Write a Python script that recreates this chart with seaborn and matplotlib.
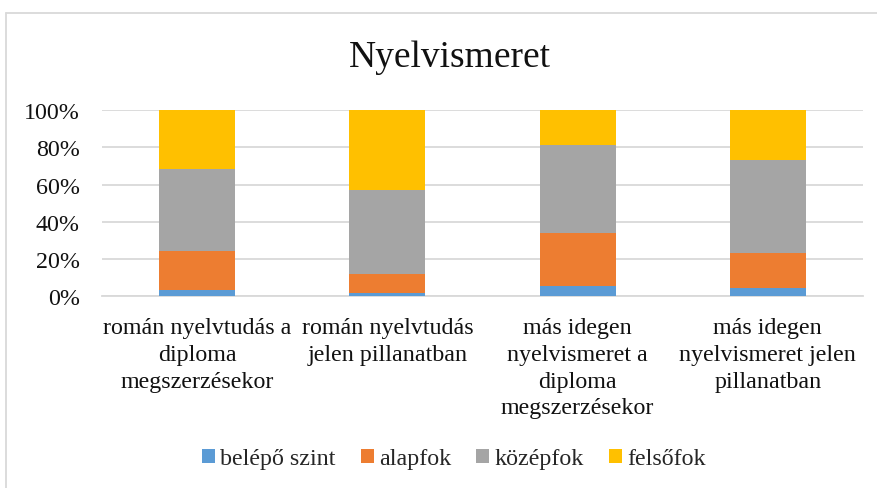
import matplotlib
matplotlib.use("Agg")
import matplotlib.pyplot as plt
import seaborn as sns
import pandas as pd
import numpy as np
from matplotlib.lines import Line2D
from matplotlib.patches import Patch
from matplotlib.ticker import PercentFormatter

categories = [
    "román nyelvtudás a\ndiploma\nmegszerzésekor",
    "román nyelvtudás\njelen pillanatban",
    "más idegen\nnyelvismeret a\ndiploma\nmegszerzésekor",
    "más idegen\nnyelvismeret jelen\npillanatban",
]
series_names = ["belépő szint", "alapfok", "középfok", "felsőfok"]
belepo = [3.5, 1.9, 5.4, 4.5]
alapfok = [20.7, 10.1, 28.5, 18.8]
kozepfok = [43.9, 44.8, 47.3, 49.6]
felsofok = [31.9, 43.2, 18.8, 27.1]
colors = ["#5b9bd5", "#ed7d31", "#a5a5a5", "#ffc000"]
yticks = [0, 20, 40, 60, 80, 100]

sns.set_theme(style="white")
plt.rcParams["font.family"] = ["Liberation Serif", "DejaVu Serif"]

df = pd.DataFrame({"cat": categories, "b": belepo, "a": alapfok, "k": kozepfok, "f": felsofok})
df["c1"] = df["b"]
df["c2"] = df["c1"] + df["a"]
df["c3"] = df["c2"] + df["k"]
df["c4"] = df["c3"] + df["f"]

fig = plt.figure(figsize=(8.78, 4.89), dpi=100)
ax = fig.add_axes([102 / 878, 1 - 297.3 / 489, 761 / 878, 186.3 / 489])

for col, color in zip(["c4", "c3", "c2", "c1"], colors[::-1]):
    sns.barplot(data=df, x="cat", y=col, color=color, width=0.4, ax=ax,
                saturation=1, linewidth=0, zorder=3, errorbar=None)

fs = 17.3
ax.set_ylim(0, 100)
ax.set_xlim(-0.5, 3.5)
ax.set_yticks(yticks)
ax.yaxis.set_major_formatter(PercentFormatter(decimals=0))
ax.yaxis.grid(True, color="#d9d9d9", linewidth=1.3, zorder=0)
ax.set_axisbelow(True)
for s in ["top", "right", "left"]:
    ax.spines[s].set_visible(False)
ax.spines["bottom"].set_color("#d9d9d9")
ax.spines["bottom"].set_linewidth(1.3)
ax.set_xlabel("")
ax.set_ylabel("")
ax.tick_params(axis="y", length=0, pad=16, labelsize=fs, labelcolor="#111111")
ax.tick_params(axis="x", length=0, pad=15, labelsize=fs, labelcolor="#111111")
for lbl in ax.get_xticklabels():
    lbl.set_linespacing(1.36)
    lbl.set_ha("center")

fig.text(450 / 878, 1 - 58 / 489, "Nyelvismeret", ha="center", va="center", fontsize=27, color="#111111")

handles = [Patch(facecolor=c, edgecolor="none") for c in colors]
fig.legend(handles, series_names, loc="center", bbox_to_anchor=(454 / 878, 1 - 460 / 489),
           ncol=4, frameon=False, fontsize=fs, handlelength=0.54, handleheight=0.54,
           handletextpad=0.22, columnspacing=1.04)

# chart border (left and top visible)
fig.add_artist(Line2D([6.5 / 878, 6.5 / 878], [0, 1 - 14 / 489], transform=fig.transFigure, color="#d9d9d9", lw=1.3))
fig.add_artist(Line2D([6.5 / 878, 1], [1 - 14 / 489, 1 - 14 / 489], transform=fig.transFigure, color="#d9d9d9", lw=1.3))

fig.savefig("out.png", dpi=100)
